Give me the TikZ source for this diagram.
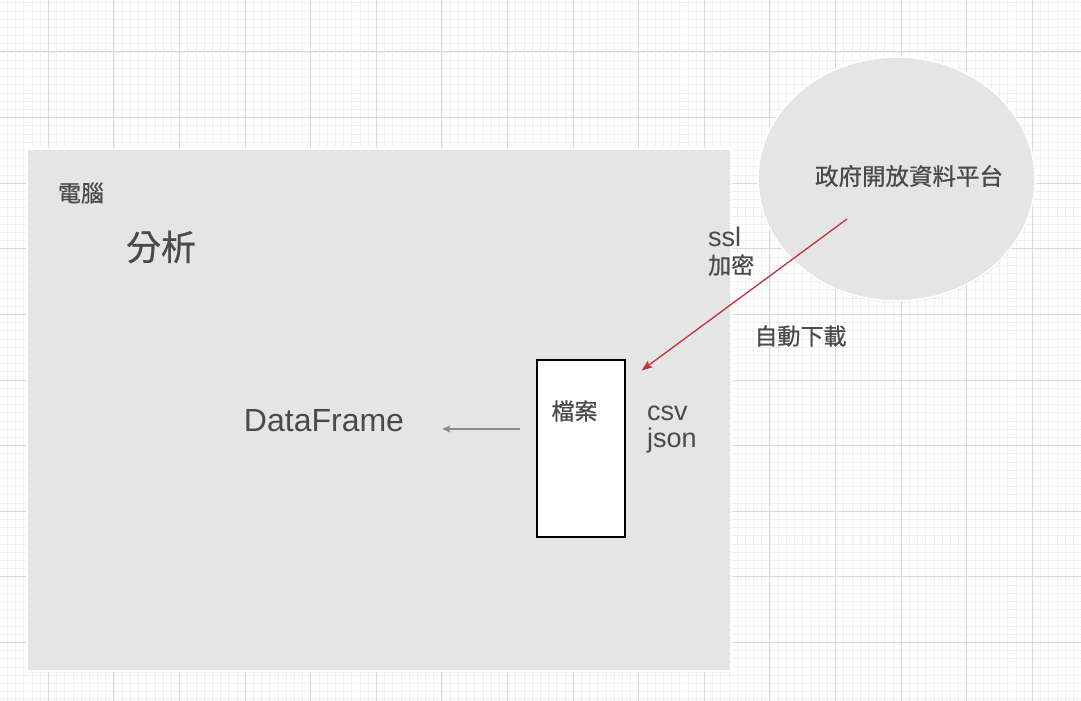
\documentclass[tikz,border=0pt]{standalone}
\usepackage{fontspec}
\setmainfont{Liberation Sans}
\newfontfamily\cjk[FakeBold=0.7]{Noto Sans CJK TC}
\usetikzlibrary{shapes.geometric,arrows.meta,shadows}
\definecolor{panelgray}{HTML}{E5E5E5}
\definecolor{inkgray}{HTML}{4A4A4A}
\definecolor{gridminor}{HTML}{EFEFEF}
\definecolor{gridmajor}{HTML}{DADADA}
\definecolor{linkred}{HTML}{C4303C}
\definecolor{flowgray}{HTML}{8A8A8A}
\begin{document}
\begin{tikzpicture}[x=1pt,y=-1pt,
                    minorline/.style={gridminor,line width=.8pt},
                    majorline/.style={gridmajor,line width=1pt},
                    panel/.style={fill=panelgray,draw=white,line width=1.5pt,
                      drop shadow={opacity=.08,shadow xshift=.5pt,shadow yshift=-2pt}},
                    filebox/.style={draw=black,fill=white,line width=1.2pt,
                      minimum width=88pt,minimum height=177pt},
                    cjklabel/.style={text=inkgray,inner sep=0pt,font=\cjk\fontsize{23}{27}\selectfont},
                    latinlabel/.style={text=inkgray,inner sep=0pt,font=\fontsize{27}{27}\selectfont}]
 \useasboundingbox (0,0) rectangle (1081,701);
 \fill[white] (0,0) rectangle (1081,701);
 % grid paper
 \foreach \i in {0,...,131} \draw[minorline] ({-0.9+8.2*\i},0) -- ({-0.9+8.2*\i},701);
 \foreach \i in {0,...,86} \draw[minorline] (0,{-5.4+8.2*\i}) -- (1081,{-5.4+8.2*\i});
 \foreach \i in {0,...,15} \draw[majorline] ({48.3+65.6*\i},0) -- ({48.3+65.6*\i},701);
 \foreach \i in {0,...,9} \draw[majorline] (0,{52+65.6*\i}) -- (1081,{52+65.6*\i});
 % computer and platform
 \node[panel,anchor=north west,minimum width=704pt,minimum height=522pt] (pc) at (26,148) {};
 \node[panel,ellipse,minimum width=277pt,minimum height=244pt] (portal) at (896.5,179) {};
 \node[filebox] (datafile) at (581,448.5) {};
 \node[cjklabel] (pctxt) at (81,193) {電腦};
 \node[cjklabel,font=\cjk\fontsize{35}{40}\selectfont] (analysis) at (161,247) {分析};
 \node[cjklabel,font=\cjk\fontsize{23.5}{27}\selectfont] (portaltxt) at (909,176) {政府開放資料平台};
 \node[cjklabel] (filetxt) at (574.5,411) {檔案};
 \node[cjklabel] (fetchtxt) at (800.5,336) {自動下載};
 \node[latinlabel,anchor=base west] (ssltxt) at (708,246.5) {ssl};
 \node[cjklabel,anchor=west] (cryptotxt) at (708,265) {加密};
 \node[latinlabel,anchor=base west] (csvtxt) at (647,420) {csv};
 \node[latinlabel,anchor=base west] (jsontxt) at (647,447) {json};
 \node[latinlabel,font=\fontsize{32}{32}\selectfont] (df) at (324,421) {DataFrame};
 % connectors
 \coordinate (fetchstart) at (847,219); \coordinate (fetchend) at (641.5,370.5);
 \draw[linkred,line width=1.3pt,-{Stealth[length=11pt,width=8pt,inset=2pt]}] (fetchstart) -- (fetchend);
 \coordinate (loadstart) at ([xshift=-16pt]datafile.west|-df);
 \draw[flowgray,line width=1.3pt,-{Stealth[length=8pt,width=7pt,inset=1.5pt]}]
   (loadstart|-0,429) -- ([xshift=38pt]df.east|-0,429);
\end{tikzpicture}
\end{document}
